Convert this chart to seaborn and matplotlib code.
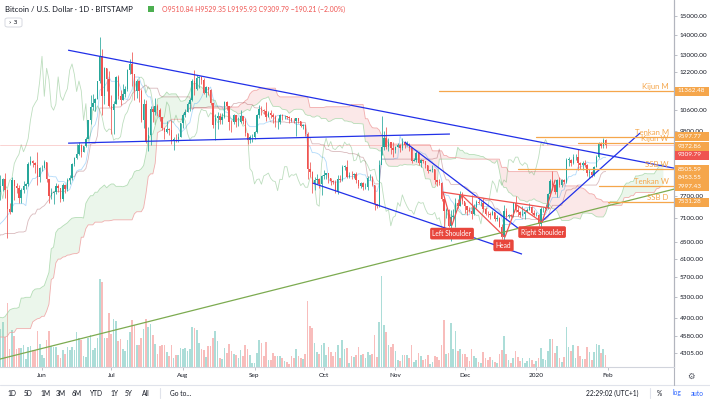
import numpy as np
import pandas as pd
import matplotlib
matplotlib.use("Agg")
import matplotlib.pyplot as plt
import seaborn as sns
from matplotlib.patches import Rectangle, FancyBboxPatch
from matplotlib.ticker import NullLocator, FixedLocator, FixedFormatter

sns.set_theme(style="white")
plt.rcParams["font.family"] = ["Lato", "DejaVu Sans"]

# ---------------- data (BTC/USD daily, Bitstamp) ----------------
# warm-up highs/lows (2019-02-25 .. 2019-05-13), only used for the Ichimoku indicator
warm_high = [3880, 3860, 3850, 3880,
             3890, 3850, 3840, 3820, 3880, 3900, 3910, 3960, 3970, 3940, 3930, 3900, 3890, 3920, 3920, 4050,
             4030, 4050, 4030, 4060, 4080, 4010, 4010, 4000, 3990, 3960, 4060, 4040, 4110, 4120, 4110,
             4140, 4950, 5320, 5060, 5050, 5230, 5280, 5340, 5250, 5460, 5410, 5090, 5110, 5160, 5190,
             5230, 5290, 5310, 5330, 5350, 5340, 5490, 5610, 5620, 5530, 5320, 5240, 5250, 5220, 5340,
             5390, 5500, 5860, 5920, 5810, 5750, 5990, 5990, 6180, 6440, 7430, 7500, 8150]
warm_low = [3740, 3780, 3700, 3780,
            3810, 3790, 3760, 3680, 3680, 3830, 3850, 3830, 3860, 3880, 3840, 3820, 3840, 3810, 3860, 3910,
            3960, 3950, 3960, 3990, 3960, 3970, 3970, 3960, 3880, 3910, 3930, 4000, 4010, 4050, 4070,
            4070, 4130, 4850, 4850, 4920, 4980, 5060, 5180, 5140, 5170, 4970, 4910, 5040, 5030, 4980,
            5000, 5190, 5240, 5220, 5260, 5200, 5230, 5380, 5410, 5030, 5080, 5160, 5160, 5110, 5160,
            5310, 5360, 5480, 5480, 5640, 5600, 5710, 5790, 5950, 6120, 6390, 6820, 6920]
warm_last_close = 7820

# displayed bars: 2019-05-14 .. 2020-01-31
close = [7990, 8200, 7870, 7350, 7260, 8190, 7990, 7950, 7640, 7880, 7990, 8050, 8680, 8780, 8720, 8660, 8270, 8550,
         8560, 8740, 8210, 7710, 7800, 7810, 8000, 7930, 7630, 8020, 7920, 8170, 8230, 8690, 8860, 8990, 9320, 9080,
         9270, 9530, 10200, 10700, 10870, 11020, 11780, 12930, 11150, 12370, 11870, 10750,
         10590, 10830, 11980, 11160, 10980, 11250, 11470, 12290, 12570, 12100, 11350, 11800, 11380, 10200, 10850, 9420,
         9670, 10630, 10530, 10760, 10590, 10330, 9900, 9780, 9880, 9850, 9480, 9530, 9520, 9600, 10090,
         10400, 10530, 10820, 10980, 11810, 11470, 11950, 11970, 11860, 11290, 11560, 11400, 10860, 10030, 10300, 10360,
         10230, 10340, 10920, 10760, 10140, 10130, 10400, 10140, 10140, 10370, 10190, 9720, 9490, 9590, 9600,
         9760, 10390, 10630, 10580, 10570, 10330, 10490, 10400, 10340, 10120, 10150, 10410, 10360, 10360, 10310, 10270,
         10190, 10160, 10270, 10180, 9980, 10020, 9690, 8530, 8430, 8060, 8190, 8210, 8050, 8300,
         8340, 8390, 8230, 8150, 8130, 7860, 8200, 8190, 8590, 8590, 8260, 8340, 8320, 8370, 8170, 8010, 8080, 7960,
         7960, 8240, 8240, 8030, 7470, 7420, 8660, 9250, 9550, 9250, 9430, 9190, 9150,
         9250, 9300, 9200, 9410, 9310, 9350, 9210, 8780, 8810, 9040, 8720, 8800, 8760, 8630, 8460, 8490, 8510, 8180,
         8120, 8080, 7620, 7280, 7330, 6900, 7120, 7160, 7520, 7420, 7740, 7560,
         7420, 7310, 7300, 7200, 7400, 7540, 7500, 7520, 7340, 7220, 7200, 7190, 7250, 7070, 7110, 6880, 6620, 7290,
         7150, 7190, 7150, 7520, 7320, 7250, 7190, 7200, 7250, 7320, 7390, 7240, 7170,
         7180, 6950, 7340, 7350, 7360, 7760, 8150, 8040, 7810, 8190, 8020, 8180, 8110, 8810, 8810, 8720, 8900, 8900,
         8700, 8630, 8720, 8660, 8380, 8430, 8330, 8590, 8900, 9380, 9290, 9500, 9309.79]
high = [8320, 8250, 8380, 7900, 7500, 8270, 8150, 8100, 8030, 7930, 8150, 8100, 8750, 8940, 8800, 8730, 9080, 8590,
        8640, 8800, 8750, 8220, 7930, 7860, 8100, 8060, 7950, 8080, 8040, 8240, 8320, 8720, 8900, 9350, 9430, 9340,
        9290, 9600, 10220, 11200, 11250, 11080, 11800, 13880, 13300, 12450, 12400, 12230,
        11200, 10950, 12000, 12070, 11420, 11650, 11600, 12340, 12800, 13150, 12130, 11900, 11850, 11440, 11050, 11000,
        9950, 10740, 10750, 11080, 10830, 10670, 10340, 9900, 10170, 9900, 10200, 9590, 9700, 9730, 10110,
        10480, 10650, 10920, 11080, 11890, 12300, 12050, 12000, 12030, 11950, 11580, 11540, 11440, 10860, 10440, 10520,
        10470, 10470, 10950, 10950, 10770, 10220, 10440, 10420, 10310, 10600, 10380, 10280, 9720, 9650, 9680,
        9800, 10440, 10800, 10770, 10650, 10900, 10540, 10590, 10480, 10390, 10300, 10450, 10440, 10420, 10380, 10370,
        10280, 10270, 10300, 10260, 10180, 10070, 10060, 9770, 8730, 8470, 8270, 8350, 8230, 8340,
        8500, 8400, 8400, 8240, 8180, 8170, 8320, 8320, 8660, 8640, 8800, 8420, 8450, 8400, 8410, 8180, 8120, 8110,
        8090, 8290, 8350, 8310, 8040, 7490, 8790, 10350, 9790, 9940, 9560, 9430, 9400,
        9280, 9380, 9340, 9570, 9460, 9440, 9370, 9230, 8870, 9110, 9060, 8840, 8810, 8780, 8650, 8530, 8650, 8510,
        8190, 8210, 8110, 7660, 7360, 7340, 7320, 7350, 7650, 7630, 7860, 7820,
        7550, 7430, 7390, 7740, 7480, 7580, 7630, 7560, 7650, 7400, 7280, 7260, 7320, 7270, 7180, 7140, 6940, 7440,
        7370, 7220, 7200, 7530, 7700, 7430, 7280, 7430, 7280, 7370, 7520, 7420, 7320,
        7250, 7210, 7400, 7400, 7490, 7800, 8200, 8460, 8050, 8200, 8280, 8200, 8200, 8880, 8900, 8840, 9000, 9000,
        9180, 8740, 8770, 8790, 8670, 8510, 8440, 8600, 8980, 9400, 9430, 9540, 9529.35]
low = [7600, 7850, 7650, 6600, 7200, 7250, 7580, 7800, 7520, 7500, 7780, 7920, 8000, 8650, 8580, 8400, 8030, 8130,
       8470, 8550, 8130, 7500, 7610, 7470, 7770, 7810, 7550, 7560, 7780, 7850, 8060, 8180, 8620, 8830, 8970, 8920,
       9060, 9240, 9550, 10080, 10580, 10570, 11020, 11710, 10410, 10820, 11370, 10700,
       9690, 9700, 10830, 11050, 10800, 10980, 11120, 11360, 12100, 11600, 11000, 11100, 10900, 10150, 9900, 9370,
       9100, 9300, 10150, 10400, 10380, 10160, 9850, 9520, 9740, 9670, 9330, 9150, 9430, 9410, 9580,
       9900, 10330, 10530, 10560, 10960, 11220, 11400, 11500, 11660, 11240, 11110, 11220, 10780, 9900, 9480, 9870,
       10050, 10080, 10280, 10610, 9850, 9780, 10080, 9950, 10000, 10100, 10060, 9640, 9330, 9380, 9430,
       9520, 9750, 10300, 10400, 10450, 10160, 10320, 10300, 10100, 9960, 9880, 10050, 10200, 10260, 10250, 10100,
       10150, 10110, 9640, 10100, 9940, 9880, 9640, 8220, 8270, 7800, 7880, 8050, 7940, 7730,
       8200, 8220, 8100, 8020, 8060, 7790, 7770, 8130, 8150, 8480, 8230, 8250, 8200, 8230, 8090, 7930, 7940, 7870,
       7900, 7880, 8180, 8000, 7320, 7370, 7390, 8980, 9150, 9180, 9110, 8990, 8900,
       9050, 9230, 9080, 9140, 9200, 9290, 9120, 8700, 8760, 8750, 8640, 8570, 8700, 8560, 8380, 8440, 8430, 8060,
       8000, 8030, 7560, 6790, 7100, 6860, 6520, 7060, 6860, 7380, 7420, 7480,
       7230, 7180, 7250, 7080, 7170, 7370, 7480, 7420, 7270, 7170, 7130, 7080, 7190, 7020, 7030, 6860, 6560, 6430,
       7040, 7100, 7120, 7130, 7260, 7160, 7130, 7160, 7070, 7250, 7310, 7220, 7150,
       7150, 6900, 6870, 7270, 7310, 7340, 7720, 7880, 7750, 7670, 7980, 7970, 8050, 8100, 8600, 8610, 8680, 8790,
       8480, 8530, 8500, 8590, 8300, 8240, 8260, 8290, 8580, 8870, 9220, 9220, 9195.93]
# volume, relative units
volume = [38, 45, 30, 64, 18, 37, 31, 18, 19, 19, 22, 8, 20, 21, 17, 17, 36, 23, 12, 9, 27, 36, 21, 20, 20, 12, 9,
          17, 13, 20, 17, 20, 17, 35, 29, 27, 11, 10, 29, 32, 17, 19, 29, 88, 85,
          29, 29, 54, 33, 48, 46, 26, 28, 18, 16, 27, 35, 47, 42, 22, 22, 29, 38, 48, 40, 43, 32, 23, 13, 21, 22, 22,
          15, 11, 22, 9, 12, 12, 19, 18, 19, 16, 18, 40, 39, 37, 24, 18, 17, 10, 21,
          21, 29, 36, 26, 9, 8, 19, 14, 23, 16, 13, 12, 9, 17, 11, 22, 18, 12, 4, 4, 14, 27, 24, 11, 25, 7, 7, 14, 11,
          11, 11, 9, 6, 5, 3, 11, 9, 18, 11, 9, 8, 13,
          66, 41, 39, 24, 15, 13, 22, 24, 12, 20, 15, 11, 15, 22, 9, 27, 18, 19, 4, 11, 10, 12, 20, 12, 13, 9, 15, 12,
          13, 32, 10, 45, 91,
          42, 35, 22, 20, 23, 16, 7, 6, 12, 12, 12,
          9, 22, 5, 7, 14, 11, 7, 8, 12, 3, 5, 11, 10, 7, 22, 47, 13, 14, 44, 18, 36, 16, 18, 13, 13, 10, 6, 18, 11, 9,
          5, 4, 15, 9, 7, 10, 7, 5, 4, 13, 17, 31, 13, 7, 4, 9, 16, 10, 6, 9, 4, 6, 9, 7, 3, 6, 9, 19, 8, 7, 16, 28, 28,
          14, 21, 9, 5, 10, 40, 20, 16, 22, 9, 21, 11, 8, 8, 20, 15, 7, 15, 23, 22, 14, 18, 12]

month_labels = ["Jun", "Jul", "Aug", "Sep", "Oct", "Nov", "Dec", "2020", "Feb"]
month_index = [18, 48, 79, 110, 140, 171, 201, 232, 263]
price_ticks = [15000, 14000, 13000, 12200, 10600, 9800, 7700, 7100, 6500, 6100, 5700, 5300, 4900, 4580, 4305]

# horizontal levels: (label, price, start bar index)
level_names = ["Kijun M", "Tenkan M", "Kijun W", "SSB W", "Tenkan W", "SSB D"]
level_prices = [11362.48, 9597.77, 9372.86, 8505.59, 7997.43, 7531.28]
level_start = [190, 232, 250, 224, 259, 263]
last_price = 9309.79

# trend-line drawings: (bar index, price) anchors
blue_lines = [[(29.3, 13228), (291.6, 8544)],
              [(29.3, 9373), (194.6, 9695)],
              [(135.3, 8083), (225.8, 6214)],
              [(175.1, 9408), (224.1, 6841)],
              [(234.0, 6995), (276.9, 9730)]]
green_line = [(-0.2, 4212), (291.6, 7905)]
hs_points = [(191.6, 7817), (195.5, 6918), (199.8, 7731), (218.4, 6618), (223.6, 7450), (234.5, 6995), (240.1, 8173)]
hs_neck = [(191.6, 7817), (237.9, 7368)]
hs_labels = [("Left Shoulder", 195.5, 6704), ("Head", 217.8, 6418), ("Right Shoulder", 234.5, 6742)]

# ---------------- derived ----------------
n = len(close)
idx = np.arange(n)
c = np.array(close, float)
o = np.concatenate([[warm_last_close], c[:-1]])
hi = np.array(high, float)
lo = np.array(low, float)
up = c >= o
UP, DN = "#26a69a", "#ef5350"
cols = np.where(up, UP, DN)

fullH = pd.Series(warm_high + high, dtype=float)
fullL = pd.Series(warm_low + low, dtype=float)
nw = len(warm_high)
xf = np.arange(len(fullH)) - nw
def mid(p):
    return (fullH.rolling(p).max() + fullL.rolling(p).min()) / 2
tenkan, kijun = mid(9), mid(26)
spanA = ((tenkan + kijun) / 2).values
spanB = mid(52).values

# ---------------- figure ----------------
W, H = 710, 403
fig = plt.figure(figsize=(W / 100, H / 100), dpi=100)
fig.patch.set_facecolor("white")
pane_bottom = 367
ax = fig.add_axes([0, 1 - pane_bottom / H, 674 / W, pane_bottom / H])
ax2 = ax.twinx()
ax.set_zorder(2)
ax2.set_zorder(1)
ax.patch.set_visible(False)

x_left, x_right = -0.18, 291.6
ax.set_yscale("log")
ax.set_ylim(4090, 15930)
ax.set_xlim(x_left, x_right)

# volume
ax2.bar(idx, volume, width=0.72, color=cols, alpha=0.38, linewidth=0)
ax2.set_ylim(0, pane_bottom)
ax2.set_xlim(x_left, x_right)
ax2.axis("off")

# Ichimoku cloud
xs = xf + 25
ok = ~np.isnan(spanA) & ~np.isnan(spanB)
ax.fill_between(xs[ok], spanA[ok], spanB[ok], where=spanA[ok] >= spanB[ok], color="#a5d6a7", alpha=0.22,
                interpolate=True, linewidth=0, zorder=1)
ax.fill_between(xs[ok], spanA[ok], spanB[ok], where=spanA[ok] < spanB[ok], color="#ef9a9a", alpha=0.22,
                interpolate=True, linewidth=0, zorder=1)
sns.lineplot(x=xs[ok], y=spanA[ok], ax=ax, color="#a5d6a7", linewidth=0.6, alpha=0.8, zorder=1)
sns.lineplot(x=xs[ok], y=spanB[ok], ax=ax, color="#ef9a9a", linewidth=0.6, alpha=0.8, zorder=1)
m = xf >= -1
sns.lineplot(x=xf[m], y=tenkan.values[m], ax=ax, color="#2196f3", linewidth=0.6, alpha=0.35, zorder=2)
sns.lineplot(x=xf[m], y=kijun.values[m], ax=ax, color="#801922", linewidth=0.6, alpha=0.3, zorder=2)
sns.lineplot(x=idx - 25, y=c, ax=ax, color="#43a047", linewidth=0.6, alpha=0.35, zorder=2)

# last price line
ax.axhline(last_price, color="#ef5350", linewidth=0.6, alpha=0.3, zorder=2)

# candles
ax.vlines(idx, lo, hi, colors=cols, linewidth=0.55, zorder=3)
ax.bar(idx, np.maximum(np.abs(c - o), c * 0.0015), bottom=np.minimum(o, c), width=0.62, color=cols,
       linewidth=0, zorder=3)

# drawings
BLUE = "#2130e8"
for ln in blue_lines:
    (x0, y0), (x1, y1) = ln
    ax.plot([x0, x1], [y0, y1], color=BLUE, linewidth=0.9, zorder=4, solid_capstyle="butt")
ax.plot([p[0] for p in green_line], [p[1] for p in green_line], color="#7cab50", linewidth=0.9, zorder=4)
RED = "#ef5350"
ax.plot([p[0] for p in hs_points], [p[1] for p in hs_points], color=RED, linewidth=0.9, zorder=4)
ax.plot([p[0] for p in hs_neck], [p[1] for p in hs_neck], color=RED, linewidth=0.9, zorder=4)
for t, xx, yy in hs_labels:
    ax.text(xx, yy, t, ha="center", va="center", fontsize=4.8, color="white", zorder=6,
            bbox=dict(boxstyle="round,pad=0.35,rounding_size=0.25", fc="#e8463c", ec="none"))

ORANGE = "#f5a64b"
for name, pr, st in zip(level_names, level_prices, level_start):
    ax.plot([st, x_right], [pr, pr], color=ORANGE, linewidth=0.9, zorder=4)
    ax.text(289.3, pr * 1.004, name, ha="right", va="bottom", fontsize=5.6, color=ORANGE, zorder=5)

# axes cosmetics
for s in ["top", "left"]:
    ax.spines[s].set_visible(False)
ax.spines["right"].set_color("#b2b5be")
ax.spines["right"].set_linewidth(0.8)
ax.spines["bottom"].set_color("#d1d4dc")
ax.spines["bottom"].set_linewidth(0.8)
ax.yaxis.tick_right()
ax.yaxis.set_major_locator(FixedLocator(price_ticks))
ax.yaxis.set_major_formatter(FixedFormatter([f"{p:.2f}" for p in price_ticks]))
ax.yaxis.set_minor_locator(NullLocator())
ax.tick_params(axis="y", right=True, length=2, width=0.6, color="#b2b5be", pad=2, labelsize=4.6,
               labelcolor="#131722")
ax.set_xticks(month_index)
ax.set_xticklabels(month_labels)
ax.tick_params(axis="x", bottom=True, length=2, width=0.6, color="#b2b5be", pad=2.5, labelsize=4.6,
               labelcolor="#131722")
ax.set_xlabel("")
ax.set_ylabel("")
ax.grid(False)

# price boxes on the axis
box_rows = [(91, "11362.48", ORANGE), (137, "9597.77", ORANGE), (146, "9372.86", ORANGE),
            (155, "9309.79", "#ef5350"), (169, "8505.59", ORANGE), (177, "8453.55", ORANGE),
            (186, "7997.43", ORANGE), (202, "7531.28", ORANGE)]
for ypx, txt, colr in box_rows:
    fig.patches.append(Rectangle((675 / W, 1 - (ypx + 4.5) / H), 34 / W, 9 / H, transform=fig.transFigure,
                                 facecolor=colr, edgecolor="none", zorder=10))
    fig.text(678 / W, 1 - ypx / H, txt, ha="left", va="center", fontsize=4.6, color="white", zorder=11)

# header
fig.text(5 / W, 1 - 9 / H, "Bitcoin / U.S. Dollar · 1D · BITSTAMP", ha="left", va="center", fontsize=5.6,
         color="#131722")
fig.patches.append(Rectangle((148 / W, 1 - 12 / H), 6 / W, 6 / H, transform=fig.transFigure,
                             facecolor="#4caf50", edgecolor="none"))
fig.text(162 / W, 1 - 9 / H, "O9510.84 H9529.35 L9195.93 C9309.79 −190.21 (−2.00%)", ha="left", va="center",
         fontsize=4.95, color="#ef5350")
fig.patches.append(FancyBboxPatch((5 / W, 1 - 27 / H), 17 / W, 9 / H, transform=fig.transFigure,
                                  boxstyle="round,pad=0,rounding_size=0.004", facecolor="white",
                                  edgecolor="#d1d4dc", linewidth=0.6))
fig.text(13.5 / W, 1 - 22.5 / H, "› 3", ha="center", va="center", fontsize=4.6, color="#131722",
         family=["DejaVu Sans"])

# bottom bars
fig.add_artist(plt.Line2D([0, 1], [1 - 385 / H, 1 - 385 / H], color="#e0e3eb", linewidth=0.8))
fig.add_artist(plt.Line2D([674 / W, 674 / W], [1 - 385 / H, 1], color="#b2b5be", linewidth=0.8))
fig.text(691 / W, 1 - 376 / H, "⚙", ha="center", va="center", fontsize=6, color="#50535e", family=["DejaVu Sans"])
tool_items = [("1D", 12), ("5D", 28), ("1M", 45), ("3M", 61), ("6M", 77), ("YTD", 96), ("1Y", 114),
              ("5Y", 129), ("All", 146), ("Go to...", 181)]
for t, xp in tool_items:
    fig.text(xp / W, 1 - 393 / H, t, ha="center", va="center", fontsize=4.8, color="#131722")
fig.add_artist(plt.Line2D([160 / W, 160 / W], [1 - 398 / H, 1 - 388 / H], color="#e0e3eb", linewidth=0.8))
fig.add_artist(plt.Line2D([650 / W, 650 / W], [1 - 398 / H, 1 - 388 / H], color="#e0e3eb", linewidth=0.8))
fig.text(612 / W, 1 - 393 / H, "22:29:02 (UTC+1)", ha="center", va="center", fontsize=4.8, color="#131722")
fig.text(659 / W, 1 - 393 / H, "%", ha="center", va="center", fontsize=4.8, color="#131722")
fig.text(677 / W, 1 - 393 / H, "log", ha="center", va="center", fontsize=4.8, color="#2962ff")
fig.text(697 / W, 1 - 393 / H, "auto", ha="center", va="center", fontsize=4.8, color="#2962ff")

fig.savefig("out.png", dpi=100, facecolor="white")
